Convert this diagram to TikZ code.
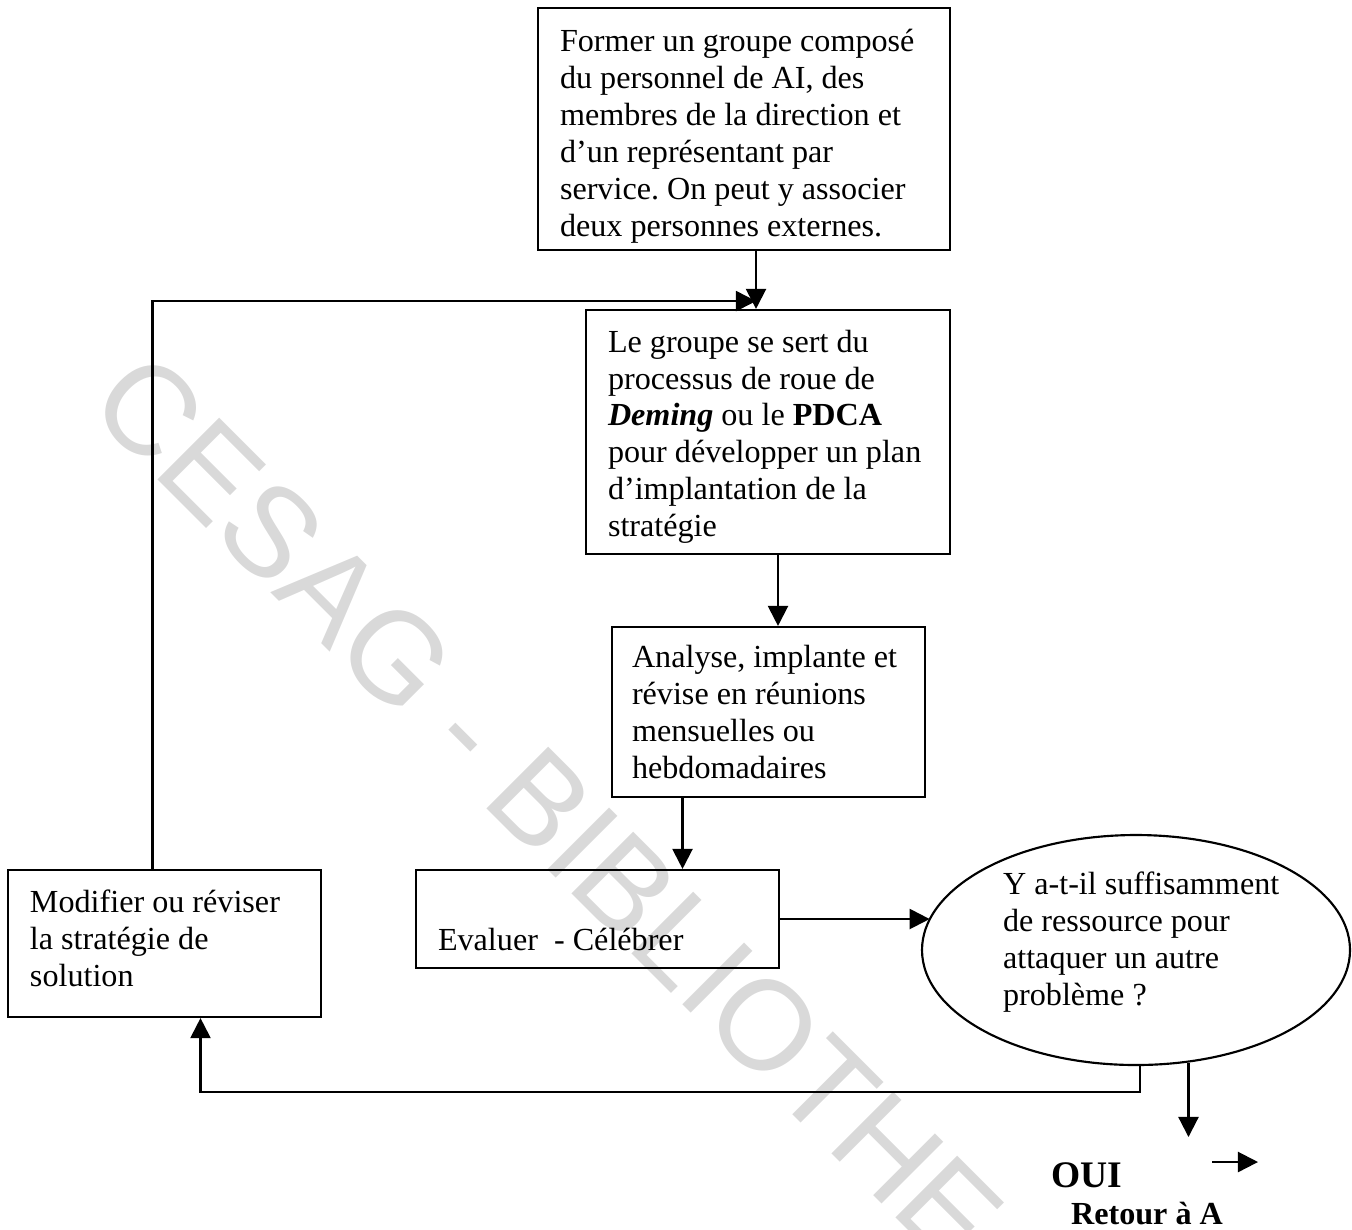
\documentclass[tikz,border=0pt]{standalone}
\usepackage{fontspec}
\setmainfont{Liberation Serif}
\newfontfamily\wmfont{Liberation Sans}
\usetikzlibrary{shapes.geometric,arrows.meta,calc}
\newlength\pxu
\setlength\pxu{0.3733pt}
\definecolor{wmgray}{HTML}{D9D9D9}
\begin{document}
\frenchspacing
\begin{tikzpicture}[x=0.3733pt,y=-0.3733pt,
  line width=0.8pt,
  box/.style={draw, rectangle, inner xsep=22\pxu, inner ysep=2pt, align=flush left,
              font=\fontsize{12}{13.8}\selectfont},
  arr/.style={-{Triangle[length=7.5pt,width=7.5pt]}},
  lbl/.style={anchor=base west, inner sep=0}]
\useasboundingbox (0,0) rectangle (1352,1229);
% watermark
\begin{scope}
\clip (0,0) rectangle (1352,1229);
\node[anchor=base west, rotate=-45, inner sep=0, text=wmgray,
      font=\wmfont\fontsize{47.4}{50}\selectfont] (wm) at (85,407) {CESAG - BIBLIOTHE};
\end{scope}
% boxes
\node[box, text width=368\pxu, minimum height=242\pxu] (b1) at (744,129)
  {\rule{0pt}{13.7pt}\mbox{Former un groupe composé}\\du personnel de AI, des\\\mbox{membres de la direction et}\\d’un représentant par\\\mbox{service. On peut y associer}\\deux personnes externes.};
\node[box, text width=320\pxu, minimum height=244\pxu] (b2) at (768,432)
  {\rule{0pt}{11.9pt}Le groupe se sert du\\processus de roue de\\\textbf{\textit{Deming}} ou le \textbf{PDCA}\\\mbox{pour développer un plan}\\d’implantation de la\\stratégie};
\node[box, inner xsep=20\pxu, text width=273\pxu, minimum height=170\pxu] (b3) at (768.5,712)
  {\mbox{Analyse, implante et}\\révise en réunions\\mensuelles ou\\hebdomadaires};
\node[box, text width=319\pxu, minimum height=98\pxu] (b4) at (597.5,919)
  {\rule{0pt}{9.7pt}\\Evaluer\ \ - Célébrer};
\node[box, text width=269\pxu, minimum height=147\pxu] (b5) at (164.5,943.5)
  {Modifier ou réviser\\la stratégie de\\solution\rule[-3.7pt]{0pt}{3.7pt}};
\node[draw, ellipse, minimum width=428\pxu, minimum height=230\pxu, inner sep=0] (ell) at (1136,950) {};
\node[anchor=west, align=flush left, inner sep=0, font=\fontsize{12}{13.8}\selectfont] (q) at (1002,942)
  {Y a-t-il suffisamment\\de ressource pour\\attaquer un autre\\problème ?};
\node[lbl, font=\bfseries\fontsize{14}{16}\selectfont] (oui) at (1050,1187) {OUI};
\node[lbl, font=\bfseries\fontsize{12}{14}\selectfont] (ret) at (1070,1224) {Retour à A};
% coordinates
\coordinate (a1) at ($(b1.south)+(12,0)$);
\coordinate (j) at ($(b1.south)+(12,50)$);
\coordinate (a2) at ($(b5.north)+(-12,0)$);
\coordinate (a3) at ($(b2.south)+(10,0)$);
\coordinate (a4) at ($(b3.south)+(-86,0)$);
\coordinate (a5) at ($(ell.south)+(4,0)$);
\coordinate (a6) at ($(b5.south)+(36,0)$);
\coordinate (g) at (1188,1137);
\coordinate (s1) at (1212,1162);
\coordinate (s2) at (1258,1162);
% connectors
\draw[arr] (a1) -- (a1 |- b2.north);
\draw[arr] (a2) |- (j);
\draw[arr] (a3) -- (a3 |- b3.north);
\draw[arr] (a4) -- (a4 |- b4.north);
\draw[arr] (b4.east) -- (b4.east -| ell.171);
\draw[arr] (a5) -- ++(0,26) -| (a6);
\draw[arr] (ell.-65) -- (ell.-65 |- g);
\draw[arr] (s1) -- (s2);
\end{tikzpicture}
\end{document}
